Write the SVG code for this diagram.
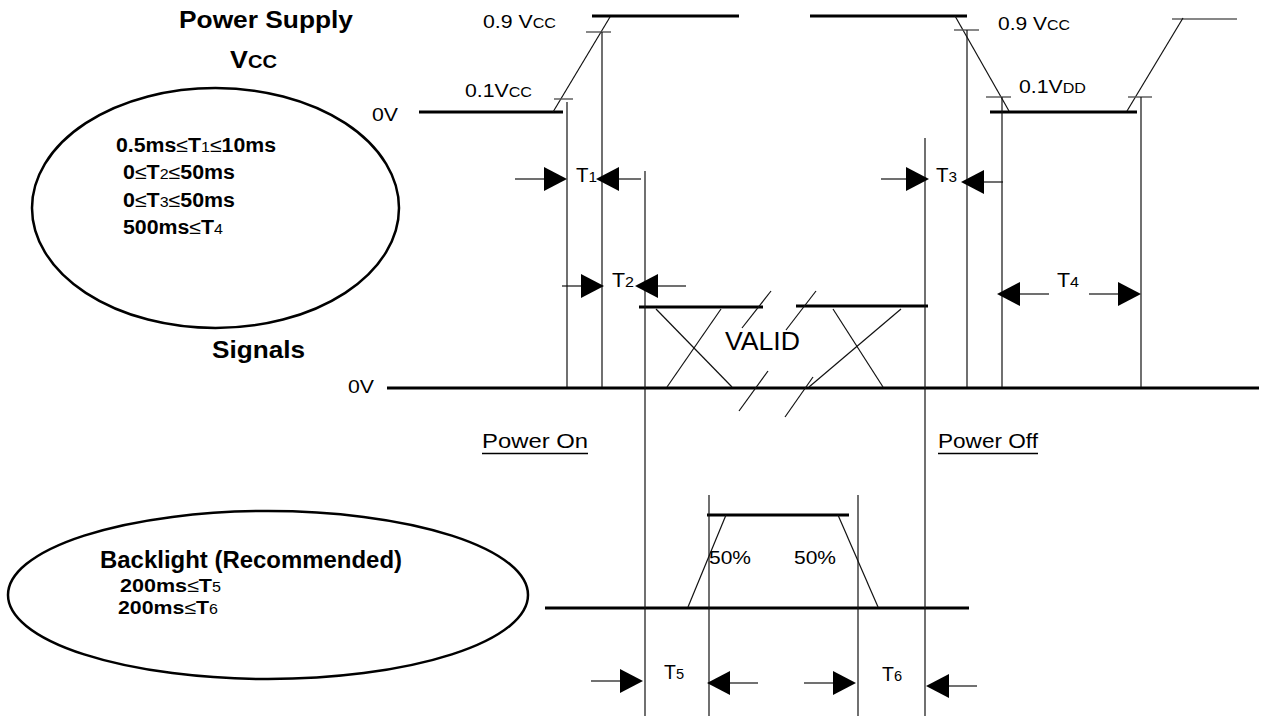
<svg xmlns="http://www.w3.org/2000/svg" xmlns:xlink="http://www.w3.org/1999/xlink" width="1266" height="716" viewBox="0 0 1266 716">
<style>
.thick{stroke:#000;stroke-width:3;fill:none}
.thin{stroke:#111;stroke-width:1.2;fill:none}
.tick{stroke:#555;stroke-width:1.4;fill:none}
.ell{fill:none;stroke:#000;stroke-width:2.5}
text{font-family:"Liberation Sans",Arial,sans-serif;fill:#000}
.b{font-weight:bold}
.n{font-weight:normal}
.s{font-size:0.75em;font-weight:normal}
</style>
<defs>
<path id="ar" d="M0,0 L-23,-12 L-23,12 Z" fill="#000"/>
</defs>
<rect width="1266" height="716" fill="#fff"/>

<g id="labels">
<text class="b" x="179" y="28" font-size="23.5" textLength="174" lengthAdjust="spacingAndGlyphs">Power Supply</text>
<text class="b" x="230" y="68" font-size="24" textLength="47" lengthAdjust="spacingAndGlyphs">V<tspan font-size="18">CC</tspan></text>
<text class="b" x="212" y="358" font-size="24.5" textLength="93" lengthAdjust="spacingAndGlyphs">Signals</text>
<text x="372" y="121" font-size="19" textLength="26" lengthAdjust="spacingAndGlyphs">0V</text>
<text x="348" y="393" font-size="19" textLength="26" lengthAdjust="spacingAndGlyphs">0V</text>
<text x="483" y="28" font-size="18.5" textLength="73" lengthAdjust="spacingAndGlyphs">0.9 V<tspan font-size="14">CC</tspan></text>
<text x="465" y="97" font-size="18.5" textLength="67" lengthAdjust="spacingAndGlyphs">0.1V<tspan font-size="14">CC</tspan></text>
<text x="998" y="30" font-size="18.5" textLength="72" lengthAdjust="spacingAndGlyphs">0.9 V<tspan font-size="14">CC</tspan></text>
<text x="1019" y="93" font-size="18.5" textLength="67" lengthAdjust="spacingAndGlyphs">0.1V<tspan font-size="14">DD</tspan></text>
<text x="725" y="350" font-size="25" textLength="75" lengthAdjust="spacingAndGlyphs">VALID</text>
<text x="482" y="448" font-size="21" textLength="106" lengthAdjust="spacingAndGlyphs">Power On</text>
<line x1="482" y1="453.5" x2="588" y2="453.5" stroke="#000" stroke-width="1.6"/>
<text x="938" y="448" font-size="21" textLength="100" lengthAdjust="spacingAndGlyphs">Power Off</text>
<line x1="938" y1="453.5" x2="1038" y2="453.5" stroke="#000" stroke-width="1.6"/>
<text x="709" y="564" font-size="19" textLength="42" lengthAdjust="spacingAndGlyphs">50%</text>
<text x="794" y="564" font-size="19" textLength="42" lengthAdjust="spacingAndGlyphs">50%</text>
<text x="576" y="182" font-size="20" textLength="21" lengthAdjust="spacingAndGlyphs">T<tspan font-size="15">1</tspan></text>
<text x="612" y="287" font-size="20" textLength="22" lengthAdjust="spacingAndGlyphs">T<tspan font-size="15">2</tspan></text>
<text x="936" y="182" font-size="20" textLength="21" lengthAdjust="spacingAndGlyphs">T<tspan font-size="15">3</tspan></text>
<text x="1057" y="287" font-size="20" textLength="22" lengthAdjust="spacingAndGlyphs">T<tspan font-size="15">4</tspan></text>
<text x="664" y="679" font-size="20" textLength="20" lengthAdjust="spacingAndGlyphs">T<tspan font-size="15">5</tspan></text>
<text x="882" y="681" font-size="20" textLength="20" lengthAdjust="spacingAndGlyphs">T<tspan font-size="15">6</tspan></text>
</g>

<g id="power-timing-note">
<ellipse class="ell" cx="215.5" cy="208" rx="183.5" ry="120"/>
<text class="b" x="116" y="152" font-size="19.5" textLength="160" lengthAdjust="spacingAndGlyphs">0.5ms<tspan class="n">≤</tspan>T<tspan class="s">1</tspan><tspan class="n">≤</tspan>10ms</text>
<text class="b" x="123" y="179" font-size="19.5" textLength="112" lengthAdjust="spacingAndGlyphs">0<tspan class="n">≤</tspan>T<tspan class="s">2</tspan><tspan class="n">≤</tspan>50ms</text>
<text class="b" x="123" y="207" font-size="19.5" textLength="112" lengthAdjust="spacingAndGlyphs">0<tspan class="n">≤</tspan>T<tspan class="s">3</tspan><tspan class="n">≤</tspan>50ms</text>
<text class="b" x="123" y="234" font-size="19.5" textLength="100" lengthAdjust="spacingAndGlyphs">500ms<tspan class="n">≤</tspan>T<tspan class="s">4</tspan></text>
</g>

<g id="backlight-note">
<ellipse class="ell" cx="268" cy="595" rx="260" ry="84"/>
<text class="b" x="100" y="568" font-size="23.5" textLength="302" lengthAdjust="spacingAndGlyphs">Backlight (Recommended)</text>
<text class="b" x="120" y="592" font-size="18.5" textLength="101" lengthAdjust="spacingAndGlyphs">200ms<tspan class="n">≤</tspan>T<tspan class="s">5</tspan></text>
<text class="b" x="118" y="614" font-size="18.5" textLength="100" lengthAdjust="spacingAndGlyphs">200ms<tspan class="n">≤</tspan>T<tspan class="s">6</tspan></text>
</g>

<g id="power-waveform">
<line class="thick" x1="419" y1="112" x2="563" y2="112"/>
<line class="thin" x1="553" y1="112" x2="610" y2="17"/>
<line class="thick" x1="592" y1="16" x2="739" y2="16"/>
<line class="thick" x1="810" y1="16" x2="967" y2="16"/>
<line class="thin" x1="955" y1="16" x2="1009" y2="111"/>
<line class="thick" x1="990" y1="112" x2="1137" y2="112"/>
<line class="thin" x1="1127" y1="111" x2="1183" y2="18"/>
<line class="thin" x1="1172" y1="19" x2="1237" y2="19"/>
<line class="tick" x1="586" y1="32" x2="611" y2="32"/>
<line class="tick" x1="554" y1="99" x2="573" y2="99"/>
<line class="tick" x1="954" y1="30" x2="979" y2="30"/>
<line class="tick" x1="986" y1="97" x2="1011" y2="97"/>
<line class="tick" x1="1128" y1="97" x2="1152" y2="97"/>
</g>

<g id="signal-waveform">
<line class="thick" x1="387" y1="388" x2="1259" y2="388"/>
<line class="thick" x1="639" y1="307" x2="763" y2="307"/>
<line class="thick" x1="796" y1="306" x2="928" y2="306"/>
<line class="thin" x1="656" y1="309" x2="732" y2="387"/>
<line class="thin" x1="721" y1="309" x2="667" y2="387"/>
<line class="thin" x1="833" y1="309" x2="883" y2="387"/>
<line class="thin" x1="901" y1="309" x2="809" y2="387"/>
<line class="thin" x1="742" y1="328" x2="771" y2="291"/>
<line class="thin" x1="786" y1="330" x2="816" y2="291"/>
<line class="thin" x1="739" y1="411" x2="768" y2="371"/>
<line class="thin" x1="785" y1="417" x2="813" y2="377"/>
</g>

<g id="backlight-waveform">
<line class="thick" x1="545" y1="608" x2="969" y2="608"/>
<line class="thick" x1="707" y1="515" x2="849" y2="515"/>
<line class="thin" x1="688" y1="607" x2="726" y2="515"/>
<line class="thin" x1="838" y1="515" x2="878" y2="607"/>
</g>

<g id="connectors">
<line class="thin" x1="567" y1="102" x2="567" y2="387"/>
<line class="thin" x1="602" y1="32" x2="602" y2="387"/>
<line class="thin" x1="645" y1="171" x2="645" y2="716"/>
<line class="thin" x1="925" y1="138" x2="925" y2="716"/>
<line class="thin" x1="967" y1="30" x2="967" y2="387"/>
<line class="thin" x1="1002" y1="97" x2="1002" y2="387"/>
<line class="thin" x1="1141" y1="97" x2="1141" y2="387"/>
<line class="thin" x1="709" y1="495" x2="709" y2="716"/>
<line class="thin" x1="858" y1="495" x2="858" y2="716"/>

<line class="thin" x1="515" y1="179" x2="545" y2="179"/><use xlink:href="#ar" x="567" y="179"/>
<line class="thin" x1="618" y1="179" x2="641" y2="179"/><use xlink:href="#ar" transform="translate(596,179) scale(-1,1)"/>
<line class="thin" x1="562" y1="286" x2="582" y2="286"/><use xlink:href="#ar" x="604" y="286"/>
<line class="thin" x1="656" y1="286" x2="686" y2="286"/><use xlink:href="#ar" transform="translate(635,286) scale(-1,1)"/>
<line class="thin" x1="881" y1="179" x2="907" y2="179"/><use xlink:href="#ar" x="929" y="179"/>
<line class="thin" x1="983" y1="182" x2="1003" y2="182"/><use xlink:href="#ar" transform="translate(961,182) scale(-1,1)"/>
<line class="thin" x1="1020" y1="294" x2="1049" y2="294"/><use xlink:href="#ar" transform="translate(997,294) scale(-1,1)"/>
<line class="thin" x1="1089" y1="294" x2="1118" y2="294"/><use xlink:href="#ar" x="1141" y="294"/>
<line class="thin" x1="591" y1="681" x2="620" y2="681"/><use xlink:href="#ar" x="643" y="681"/>
<line class="thin" x1="729" y1="683" x2="758" y2="683"/><use xlink:href="#ar" transform="translate(707,683) scale(-1,1)"/>
<line class="thin" x1="804" y1="683" x2="834" y2="683"/><use xlink:href="#ar" x="856" y="683"/>
<line class="thin" x1="948" y1="686" x2="977" y2="686"/><use xlink:href="#ar" transform="translate(926,686) scale(-1,1)"/>
</g>
</svg>
